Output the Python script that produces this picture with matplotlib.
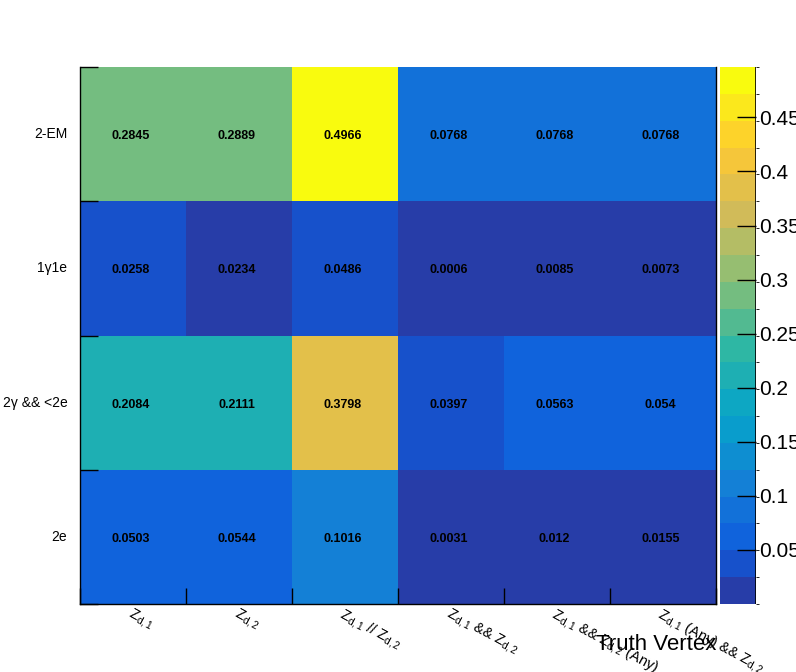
import numpy as np
import matplotlib
matplotlib.use("Agg")
import matplotlib.pyplot as plt
import matplotlib.transforms as mtransforms
from matplotlib.colors import ListedColormap, BoundaryNorm, LinearSegmentedColormap

plt.rcParams['font.family'] = ['Liberation Sans', 'DejaVu Sans']
plt.rcParams['mathtext.fontset'] = 'custom'
plt.rcParams['mathtext.rm'] = 'Liberation Sans'
plt.rcParams['mathtext.it'] = 'Liberation Sans:italic'

# x categories (truth vertex), y categories (reco class)
x_labels = [r'$\mathrm{Z_{d,1}}$', r'$\mathrm{Z_{d,2}}$',
            r'$\mathrm{Z_{d,1}}$ // $\mathrm{Z_{d,2}}$',
            r'$\mathrm{Z_{d,1}}$ && $\mathrm{Z_{d,2}}$',
            r'$\mathrm{Z_{d,1}}$ && $\mathrm{Z_{d,2}}$ (Any)',
            r'$\mathrm{Z_{d,1}}$ (Any) && $\mathrm{Z_{d,2}}$']
y_labels = ['2e', '2γ && <2e', '1γ1e', '2-EM']

# rows from bottom (2e) to top (2-EM)
row_2e = [0.0503, 0.0544, 0.1016, 0.0031, 0.012, 0.0155]
row_2g = [0.2084, 0.2111, 0.3798, 0.0397, 0.0563, 0.054]
row_1g1e = [0.0258, 0.0234, 0.0486, 0.0006, 0.0085, 0.0073]
row_2em = [0.2845, 0.2889, 0.4966, 0.0768, 0.0768, 0.0768]
values = np.array([row_2e, row_2g, row_1g1e, row_2em])
cell_text = [['0.0503', '0.0544', '0.1016', '0.0031', '0.012', '0.0155'],
             ['0.2084', '0.2111', '0.3798', '0.0397', '0.0563', '0.054'],
             ['0.0258', '0.0234', '0.0486', '0.0006', '0.0085', '0.0073'],
             ['0.2845', '0.2889', '0.4966', '0.0768', '0.0768', '0.0768']]

# ROOT kBird palette, 20 contours
stops = [0.0, 0.125, 0.25, 0.375, 0.5, 0.625, 0.75, 0.875, 1.0]
red = [0.2082, 0.0592, 0.0780, 0.0232, 0.1802, 0.5301, 0.8186, 0.9956, 0.9764]
green = [0.1664, 0.3599, 0.5041, 0.6419, 0.7178, 0.7492, 0.7328, 0.7862, 0.9832]
blue = [0.5293, 0.8684, 0.8385, 0.7914, 0.6425, 0.4662, 0.3499, 0.1968, 0.0539]
bird = LinearSegmentedColormap.from_list(
    'bird', [(s, (r, g, b)) for s, r, g, b in zip(stops, red, green, blue)], N=255)
ncont = 20
cols = [bird(int((i + 0.99) * 255 / ncont) / 254) for i in range(ncont)]
cmap = ListedColormap(cols)
vmax = values.max()
bounds = np.linspace(0, vmax, ncont + 1)
norm = BoundaryNorm(bounds, ncont)

fig = plt.figure(figsize=(7.96, 6.72), dpi=100)
ax = fig.add_axes([80 / 796, 1 - 604 / 672, 636 / 796, 537 / 672])
cax = fig.add_axes([720 / 796, 1 - 604 / 672, 36 / 796, 537 / 672])

nx, ny = len(x_labels), len(y_labels)
mesh = ax.pcolormesh(np.arange(nx + 1), np.arange(ny + 1), values, cmap=cmap, norm=norm)
# ROOT puts the numbers a touch left and low of the cell centre
txt_tr = mtransforms.offset_copy(ax.transData, fig=fig, x=-2.5, y=-2, units='dots')
for j in range(ny):
    for i in range(nx):
        ax.text(i + 0.5, j + 0.5, cell_text[j][i], ha='center', va='center',
                fontsize=9, fontweight='bold', color='black', transform=txt_tr)

ax.set_xlim(0, nx)
ax.set_ylim(0, ny)
ax.spines['top'].set_visible(False)
for s in ['left', 'bottom', 'right']:
    ax.spines[s].set_linewidth(1)

ax.set_xticks(np.arange(nx + 1))
ax.set_xticklabels([])
ax.set_yticks(np.arange(ny + 1))
ax.set_yticklabels([])
ax.tick_params(axis='x', direction='in', length=11.5, width=1, top=False)
ax.tick_params(axis='y', direction='in', length=13, width=1, right=False)

for i, lab in enumerate(x_labels):
    ax.text(i + 0.5, -0.01, lab, rotation=-28, rotation_mode='anchor',
            ha='left', va='top', fontsize=10.5)
for j, lab in enumerate(y_labels):
    ax.text(-0.12, j + 0.5, lab, ha='right', va='center', fontsize=10)

fig.text(716 / 796, 1 - 645 / 672, 'Truth Vertex', ha='right', va='center', fontsize=16)

cb = fig.colorbar(mesh, cax=cax, ticks=[0.05, 0.1, 0.15, 0.2, 0.25, 0.3, 0.35, 0.4, 0.45],
                  drawedges=False)
cb.outline.set_visible(False)
cax.set_yticklabels(['0.05', '0.1', '0.15', '0.2', '0.25', '0.3', '0.35', '0.4', '0.45'])
cax.tick_params(axis='y', direction='in', length=13.5, width=1, labelsize=15, pad=2)
cax.axvline(1, color='black', linewidth=1.2)

fig.savefig('out.png', dpi=100)
